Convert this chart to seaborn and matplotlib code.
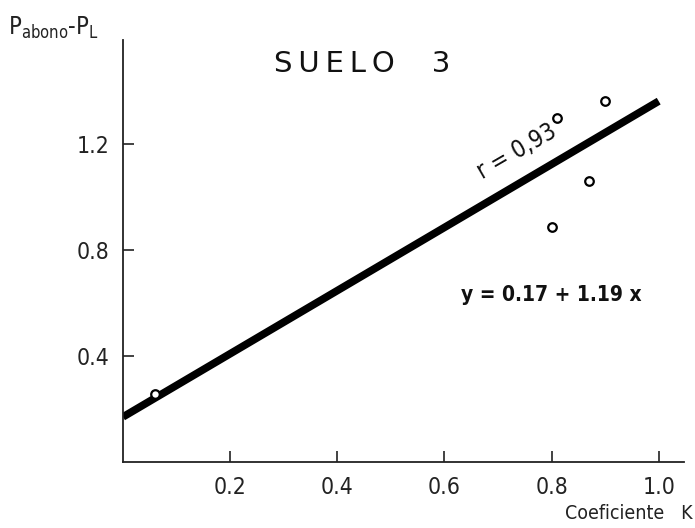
import numpy as np
import pandas as pd
import matplotlib
matplotlib.use('Agg')
import matplotlib.pyplot as plt
import seaborn as sns

# data
coef_k = [0.06, 0.80, 0.81, 0.87, 0.90]
p_diff = [0.255, 0.885, 1.295, 1.06, 1.36]
intercept = 0.17
slope = 1.19
fit_x = [0.0, 1.0]
x_ticks = [0.2, 0.4, 0.6, 0.8, 1.0]
y_ticks = [0.4, 0.8, 1.2]
title = '\u2009'.join('SUELO') + '    3'
r_label = 'r = 0,93'
eq_label = 'y = 0.17 + 1.19 x'

sns.set_theme(style='ticks')
plt.rcParams['font.family'] = ['DejaVu Sans']
plt.rcParams['font.stretch'] = 'condensed'
plt.rcParams['mathtext.fontset'] = 'custom'
plt.rcParams['mathtext.rm'] = 'DejaVu Sans:stretch=condensed'

fig = plt.figure(figsize=(6.95, 5.28), dpi=100)
ax = fig.add_axes([0.177, 0.125, 0.807, 0.799])

pts = pd.DataFrame({'k': coef_k, 'p': p_diff})
fit = pd.DataFrame({'k': fit_x, 'p': [intercept + slope * v for v in fit_x]})

sns.lineplot(data=fit, x='k', y='p', ax=ax, color='black', linewidth=5.5,
             solid_capstyle='butt', zorder=2)
sns.scatterplot(data=pts, x='k', y='p', ax=ax, marker='o', s=38,
                facecolor='white', edgecolor='black', linewidth=1.6, zorder=3)

ax.set_xlim(0, 1.047)
ax.set_ylim(0, 1.59)
ax.set_xticks(x_ticks)
ax.set_yticks(y_ticks)
ax.set_xticklabels([f'{v:.1f}' for v in x_ticks])
ax.set_yticklabels([f'{v:.1f}' for v in y_ticks])
ax.tick_params(direction='in', length=8, width=1.2, labelsize=16.5, colors='#222222')
ax.tick_params(axis='x', pad=10)
ax.tick_params(axis='y', pad=10)
for s in ['top', 'right']:
    ax.spines[s].set_visible(False)
for s in ['left', 'bottom']:
    ax.spines[s].set_linewidth(1.3)
    ax.spines[s].set_color('#222222')
ax.set_xlabel('')
ax.set_ylabel('')

fig.text(0.012, 0.948, r'$\mathregular{P_{abono}}$-$\mathregular{P_L}$', fontsize=17,
         color='#222222', ha='left', va='center')
fig.text(0.997, 0.027, 'Coeficiente   K', fontsize=14, color='#222222',
         ha='right', va='center', fontstretch='condensed')
ax.text(0.446, 1.50, title, fontsize=21, color='#111111', ha='center', va='center',
        fontstretch='normal', fontweight='normal')
ax.text(0.735, 1.17, r_label, fontsize=17, color='#111111', ha='center', va='center',
        rotation=30, rotation_mode='anchor')
ax.text(0.80, 0.63, eq_label, fontsize=15, fontweight='bold', color='#111111',
        ha='center', va='center')

fig.savefig('out.png', dpi=100)
